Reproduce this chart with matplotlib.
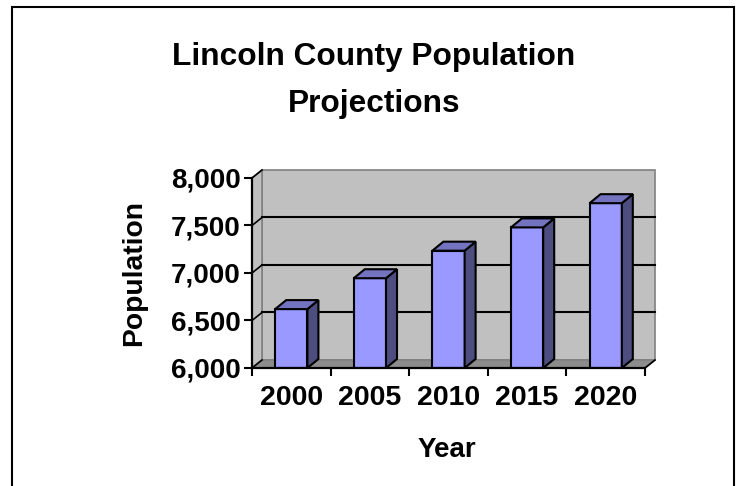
import matplotlib
matplotlib.use('Agg')
import matplotlib.pyplot as plt
from matplotlib.patches import Polygon, Rectangle

# values
years = ['2000', '2005', '2010', '2015', '2020']
population = [6620, 6945, 7235, 7480, 7735]
y_ticks = [6000, 6500, 7000, 7500, 8000]
title_lines = ['Lincoln County Population', 'Projections']

plt.rcParams['font.family'] = ['Liberation Sans', 'DejaVu Sans']
plt.rcParams['font.weight'] = 'bold'

FRONT = '#9999FF'
TOP = '#7373C0'
SIDE = '#4D4D80'
WALL = '#C0C0C0'
FLOOR = '#8C8C8C'
EDGE = '#808080'

fig = plt.figure(figsize=(7.36, 4.86), dpi=100)
ax = fig.add_axes([252 / 736, 118 / 486, 403 / 736, 198 / 486])

ymin, ymax = y_ticks[0], y_ticks[-1]
x0, x1 = -0.5, len(years) - 0.5
px_x = 78.6                # pixels per category
px_y = 190 / (ymax - ymin)  # pixels per unit
dx, dy = 10 / px_x, 8 / px_y      # depth of the walls
bdx, bdy = 11 / px_x, 9 / px_y    # depth of the bars

ax.set_xlim(x0, x1 + dx)
ax.set_ylim(ymin, ymax + dy)
ax.patch.set_visible(False)

# back wall, side wall, floor
ax.add_patch(Polygon([(x0 + dx, ymin + dy), (x1 + dx, ymin + dy),
                      (x1 + dx, ymax + dy), (x0 + dx, ymax + dy)],
                     fc=WALL, ec=EDGE, lw=1.2, zorder=0, clip_on=False))
ax.add_patch(Polygon([(x0, ymin), (x0 + dx, ymin + dy),
                      (x0 + dx, ymax + dy), (x0, ymax)],
                     fc=WALL, ec=EDGE, lw=1.2, zorder=0, clip_on=False))
ax.add_patch(Polygon([(x0, ymin), (x1, ymin),
                      (x1 + dx, ymin + dy), (x0 + dx, ymin + dy)],
                     fc=FLOOR, ec=EDGE, lw=1.2, zorder=0, clip_on=False))

for v in y_ticks[1:-1]:
    ax.plot([x0 + dx, x1 + dx], [v + dy, v + dy], color='black', lw=1.5,
            zorder=1, clip_on=False)
for v in y_ticks:
    ax.plot([x0, x0 + dx], [v, v + dy], color='black', lw=1.2, zorder=1,
            clip_on=False)
ax.plot([x1, x1 + dx], [ymin, ymin + dy], color='black', lw=1.2, zorder=1,
        clip_on=False)

# columns: front face from ax.bar, side and top faces from each bar
bars = ax.bar(range(len(years)), [p - ymin for p in population], bottom=ymin,
              width=0.41, color=FRONT, edgecolor='black', lw=1.5, zorder=3)
for rect in bars:
    left = rect.get_x()
    right = left + rect.get_width()
    top = rect.get_y() + rect.get_height()
    ax.add_patch(Polygon([(right, ymin), (right + bdx, ymin + bdy),
                          (right + bdx, top + bdy), (right, top)],
                         fc=SIDE, ec='black', lw=1.5, zorder=3,
                         joinstyle='miter', clip_on=False))
    ax.add_patch(Polygon([(left, top), (right, top),
                          (right + bdx, top + bdy), (left + bdx, top + bdy)],
                         fc=TOP, ec='black', lw=1.5, zorder=3,
                         joinstyle='miter', clip_on=False))

# axes
for s in ['top', 'right']:
    ax.spines[s].set_visible(False)
ax.spines['left'].set_bounds(ymin, ymax)
ax.spines['bottom'].set_bounds(x0, x1)
for s in ['left', 'bottom']:
    ax.spines[s].set_linewidth(1.6)
    ax.spines[s].set_zorder(4)

ax.set_yticks(y_ticks)
ax.set_yticklabels([f'{v:,}' for v in y_ticks])
ax.tick_params(axis='y', length=6, width=1.5, pad=2, labelsize=20)

ax.set_xticks([x0 + i for i in range(len(years) + 1)])
ax.set_xticklabels([''] * (len(years) + 1))
ax.set_xticks(range(len(years)), minor=True)
ax.set_xticklabels(years, minor=True)
ax.tick_params(axis='x', which='major', length=6, width=1.5)
ax.tick_params(axis='x', which='minor', length=0, pad=12, labelsize=20.5)

# title, two lines placed on their baselines
for line, base in zip(title_lines, [65, 112]):
    fig.text(374 / 736, 1 - base / 486, line, ha='center', va='baseline',
             fontsize=22.8, fontweight='bold')
fig.text(447 / 736, 1 - 457 / 486, 'Year', ha='center', va='baseline',
         fontsize=20, fontweight='bold')
fig.text(134 / 736, 1 - 273 / 486, 'Population', ha='center', va='center',
         rotation=90, fontsize=20.3, fontweight='bold')

# chart border
fig.patches.append(Rectangle((12 / 736, -0.05), (734 - 12) / 736,
                             (486 - 7) / 486 + 0.05, transform=fig.transFigure,
                             fill=False, ec='black', lw=1.5))

fig.savefig('out.png', dpi=100)
